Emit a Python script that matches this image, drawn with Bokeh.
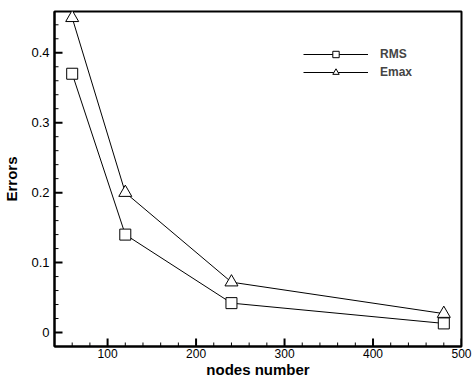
import math
from bokeh.plotting import figure
from bokeh.models import Range1d, FixedTicker, Legend, LegendItem
from bokeh.embed import file_html
from bokeh.resources import INLINE

nodes = [60, 120, 240, 480]
rms = [0.37, 0.14, 0.042, 0.013]
emax = [0.45, 0.20, 0.072, 0.027]

x_major = [100, 200, 300, 400, 500]
x_minor = [v for v in range(40, 501, 20) if v % 100 != 0]
y_major = [0, 0.1, 0.2, 0.3, 0.4]
y_minor = [round(0.02 * i, 2) for i in range(-1, 23) if i % 5 != 0]

X0, X1 = 40, 500
Y0, Y1 = -0.02, 0.459
FONT = "Liberation Sans"

p = figure(width=473, height=380, output_backend="svg", toolbar_location=None,
           x_range=Range1d(X0, X1), y_range=Range1d(Y0, Y1),
           min_border_left=54, min_border_right=12, min_border_top=11, min_border_bottom=29)
p.grid.visible = False
p.outline_line_color = "black"
p.outline_line_width = 2
p.background_fill_color = "white"
p.border_fill_color = "white"

for ax, maj, mnr in ((p.xaxis[0], x_major, x_minor), (p.yaxis[0], y_major, y_minor)):
    ax.ticker = FixedTicker(ticks=maj, minor_ticks=mnr)
    ax.axis_line_width = 2
    ax.major_tick_in = 0
    ax.major_tick_out = 0
    ax.minor_tick_in = 0
    ax.minor_tick_out = 0
    ax.major_label_text_font = FONT
    ax.major_label_text_font_size = "13px"
    ax.major_label_text_color = "black"
    ax.axis_label_text_font = FONT
    ax.axis_label_text_font_style = "bold"
    ax.axis_label_text_color = "black"

p.yaxis[0].major_label_overrides = {0: "0"}
p.xaxis.axis_label = "nodes number"
p.xaxis.major_label_text_font_size = "12px"
p.xaxis.axis_label_text_font_size = "15px"
p.xaxis.major_label_standoff = 2
p.xaxis.axis_label_standoff = 0
p.yaxis.axis_label = "Errors"
p.yaxis.axis_label_text_font_size = "15px"
p.yaxis.major_label_standoff = 5
p.yaxis.axis_label_standoff = 8

# inward ticks (dash markers centred on the frame edge; outer half is clipped)
p.scatter(x_major, [Y0] * len(x_major), marker="dash", angle=math.pi / 2, size=16,
          line_color="black", line_width=2)
p.scatter(x_minor, [Y0] * len(x_minor), marker="dash", angle=math.pi / 2, size=8,
          line_color="black", line_width=1)
p.scatter([X0] * len(y_major), y_major, marker="dash", size=16,
          line_color="black", line_width=2)
p.scatter([X0] * len(y_minor), y_minor, marker="dash", size=8,
          line_color="black", line_width=1)

l1 = p.line(nodes, rms, line_color="black", line_width=1)
s1 = p.scatter(nodes, rms, marker="square", size=11, fill_color="white", line_color="black")
l2 = p.line(nodes, emax, line_color="black", line_width=1)
s2 = p.scatter(nodes, emax, marker="triangle", size=13, fill_color="white", line_color="black")

legend = Legend(items=[LegendItem(label="RMS", renderers=[l1, s1]),
                       LegendItem(label="Emax", renderers=[l2, s2])],
                location=(249, 266), padding=0, margin=0, spacing=2,
                glyph_width=65, glyph_height=16, label_height=16, label_standoff=12,
                label_text_font=FONT, label_text_font_style="bold", label_text_font_size="12px",
                border_line_color=None, background_fill_alpha=0)
p.add_layout(legend)

open("out.html", "w").write(file_html(p, INLINE))
